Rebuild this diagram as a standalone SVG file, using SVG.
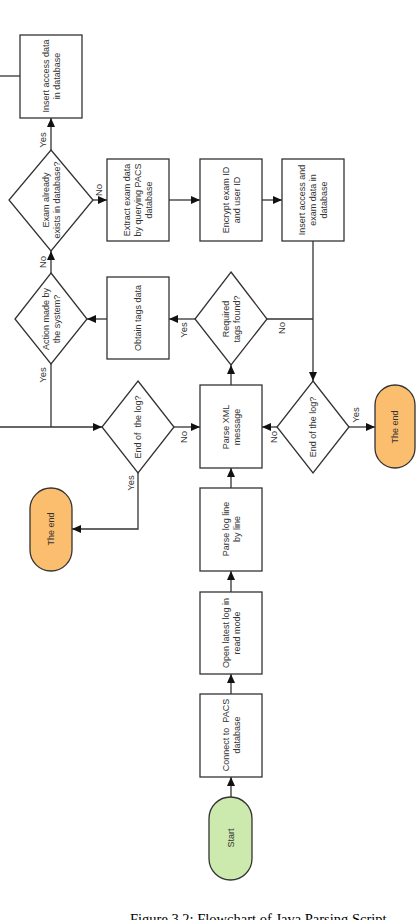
<svg xmlns="http://www.w3.org/2000/svg" width="420" height="920" viewBox="0 0 420 920">
<style>
.box{fill:#fff;stroke:#333;stroke-width:1.3}
.dia{fill:#fff;stroke:#333;stroke-width:1.3}
.term-end{fill:#FBBE6E;stroke:#333;stroke-width:1.3}
.term-start{fill:#CDEAAE;stroke:#333;stroke-width:1.3}
.t{font-family:"Liberation Sans",Arial,sans-serif;font-size:9px;fill:#333;text-anchor:middle;dominant-baseline:central}
.lbl{font-family:"Liberation Sans",Arial,sans-serif;font-size:9.5px;fill:#333;text-anchor:middle;dominant-baseline:central}
.c{fill:none;stroke:#333;stroke-width:1.3}
.cap{font-family:"Liberation Serif","Times New Roman",serif;font-size:14.5px;fill:#000}
</style>
<defs>
<marker id="ah" viewBox="0 0 9 8" markerUnits="userSpaceOnUse" markerWidth="9" markerHeight="8" refX="9" refY="4" orient="auto">
<path d="M0,0 L9,4 L0,8 z" fill="#111"/>
</marker>
</defs>

<g id="connectors">
<line class="c" x1="0" y1="76" x2="20" y2="76"/>
<line class="c" x1="51" y1="150" x2="51" y2="118" marker-end="url(#ah)"/>
<line class="c" x1="93" y1="200" x2="107" y2="200" marker-end="url(#ah)"/>
<line class="c" x1="169" y1="200" x2="200" y2="200" marker-end="url(#ah)"/>
<line class="c" x1="262" y1="200" x2="282" y2="200" marker-end="url(#ah)"/>
<line class="c" x1="313" y1="241" x2="313" y2="381" marker-end="url(#ah)"/>
<line class="c" x1="267" y1="319" x2="313" y2="319"/>
<line class="c" x1="195" y1="319" x2="169" y2="319" marker-end="url(#ah)"/>
<line class="c" x1="107" y1="319" x2="87" y2="319" marker-end="url(#ah)"/>
<line class="c" x1="51" y1="273" x2="51" y2="251" marker-end="url(#ah)"/>
<line class="c" x1="51" y1="364" x2="51" y2="427"/>
<line class="c" x1="0" y1="427" x2="102" y2="427" marker-end="url(#ah)"/>
<line class="c" x1="174" y1="427" x2="200" y2="427" marker-end="url(#ah)"/>
<line class="c" x1="231" y1="385" x2="231" y2="365" marker-end="url(#ah)"/>
<line class="c" x1="277" y1="427" x2="262" y2="427" marker-end="url(#ah)"/>
<line class="c" x1="349" y1="427" x2="375" y2="427" marker-end="url(#ah)"/>
<polyline class="c" points="138,473 138,529 72,529" marker-end="url(#ah)"/>
<line class="c" x1="231" y1="488" x2="231" y2="468" marker-end="url(#ah)"/>
<line class="c" x1="231" y1="592" x2="231" y2="571" marker-end="url(#ah)"/>
<line class="c" x1="231" y1="694" x2="231" y2="674" marker-end="url(#ah)"/>
<line class="c" x1="231" y1="797" x2="231" y2="777" marker-end="url(#ah)"/>
<text class="lbl" transform="translate(42,140) rotate(-90)">Yes</text>
<text class="lbl" transform="translate(42,262) rotate(-90)">No</text>
<text class="lbl" transform="translate(42,375) rotate(-90)">Yes</text>
<text class="lbl" transform="translate(98,190) rotate(-90)">No</text>
<text class="lbl" transform="translate(183,330) rotate(-90)">Yes</text>
<text class="lbl" transform="translate(281,328) rotate(-90)">No</text>
<text class="lbl" transform="translate(183,437) rotate(-90)">No</text>
<text class="lbl" transform="translate(273,437) rotate(-90)">No</text>
<text class="lbl" transform="translate(355,415) rotate(-90)">Yes</text>
<text class="lbl" transform="translate(130,483) rotate(-90)">Yes</text>
</g>

<g id="insert-access">
<rect class="box" x="20" y="35" width="62" height="83"/>
<text class="t" transform="translate(51,76) rotate(-90)"><tspan x="0" y="-5.5">Insert access data</tspan><tspan x="0" y="5.5">in database</tspan></text>
</g>

<g id="exam-exists">
<polygon class="dia" points="51,150 93,200 51,251 9,200"/>
<text class="t" transform="translate(51,200) rotate(-90)"><tspan x="0" y="-5.5">Exam already</tspan><tspan x="0" y="5.5">exists in database?</tspan></text>
</g>

<g id="extract-exam">
<rect class="box" x="107" y="159" width="62" height="82"/>
<text class="t" transform="translate(138,200) rotate(-90)"><tspan x="0" y="-11">Extract exam data</tspan><tspan x="0" y="0">by querying PACS</tspan><tspan x="0" y="11">database</tspan></text>
</g>

<g id="encrypt">
<rect class="box" x="200" y="159" width="62" height="82"/>
<text class="t" transform="translate(231,200) rotate(-90)"><tspan x="0" y="-5.5">Encrypt exam ID</tspan><tspan x="0" y="5.5">and user ID</tspan></text>
</g>

<g id="insert-access-exam">
<rect class="box" x="282" y="159" width="62" height="82"/>
<text class="t" transform="translate(313,200) rotate(-90)"><tspan x="0" y="-11">Insert access and</tspan><tspan x="0" y="0">exam data in</tspan><tspan x="0" y="11">database</tspan></text>
</g>

<g id="action-system">
<polygon class="dia" points="51,273 87,319 51,364 15,319"/>
<text class="t" transform="translate(51,319) rotate(-90)"><tspan x="0" y="-5.5">Action made by</tspan><tspan x="0" y="5.5">the system?</tspan></text>
</g>

<g id="obtain-tags">
<rect class="box" x="107" y="277" width="62" height="82"/>
<text class="t" transform="translate(138,318) rotate(-90)">Obtain tags data</text>
</g>

<g id="required-tags">
<polygon class="dia" points="231,272 267,319 231,365 195,319"/>
<text class="t" transform="translate(231,319) rotate(-90)"><tspan x="0" y="-5.5">Required</tspan><tspan x="0" y="5.5">tags found?</tspan></text>
</g>

<g id="end-log-1">
<polygon class="dia" points="138,381 174,427 138,473 102,427"/>
<text class="t" transform="translate(138,427) rotate(-90)" xml:space="preserve">End of  the log?</text>
</g>

<g id="parse-xml">
<rect class="box" x="200" y="385" width="62" height="83"/>
<text class="t" transform="translate(231,427) rotate(-90)"><tspan x="0" y="-5.5">Parse XML</tspan><tspan x="0" y="5.5">message</tspan></text>
</g>

<g id="end-log-2">
<polygon class="dia" points="313,381 349,427 313,473 277,427"/>
<text class="t" transform="translate(313,427) rotate(-90)">End of the log?</text>
</g>

<g id="the-end-2">
<rect class="term-end" x="375" y="385" width="40" height="83" rx="20" ry="20"/>
<text class="t" transform="translate(395,427) rotate(-90)">The end</text>
</g>

<g id="the-end-1">
<rect class="term-end" x="30" y="488" width="42" height="83" rx="21" ry="21"/>
<text class="t" transform="translate(51,529) rotate(-90)">The end</text>
</g>

<g id="parse-log">
<rect class="box" x="200" y="488" width="62" height="83"/>
<text class="t" transform="translate(231,529) rotate(-90)"><tspan x="0" y="-5.5">Parse log line</tspan><tspan x="0" y="5.5">by line</tspan></text>
</g>

<g id="open-log">
<rect class="box" x="200" y="592" width="62" height="82"/>
<text class="t" transform="translate(231,633) rotate(-90)"><tspan x="0" y="-5.5">Open latest log in</tspan><tspan x="0" y="5.5">read mode</tspan></text>
</g>

<g id="connect-pacs">
<rect class="box" x="200" y="694" width="62" height="83"/>
<text class="t" transform="translate(231,735) rotate(-90)" xml:space="preserve"><tspan x="0" y="-5.5">Connect to  PACS</tspan><tspan x="0" y="5.5">database</tspan></text>
</g>

<g id="start">
<rect class="term-start" x="209" y="797" width="43" height="83" rx="21.5" ry="21.5"/>
<text class="t" transform="translate(230.5,838) rotate(-90)">Start</text>
</g>

<text class="cap" x="130" y="924">Figure 3.2: Flowchart of Java Parsing Script</text>
</svg>
